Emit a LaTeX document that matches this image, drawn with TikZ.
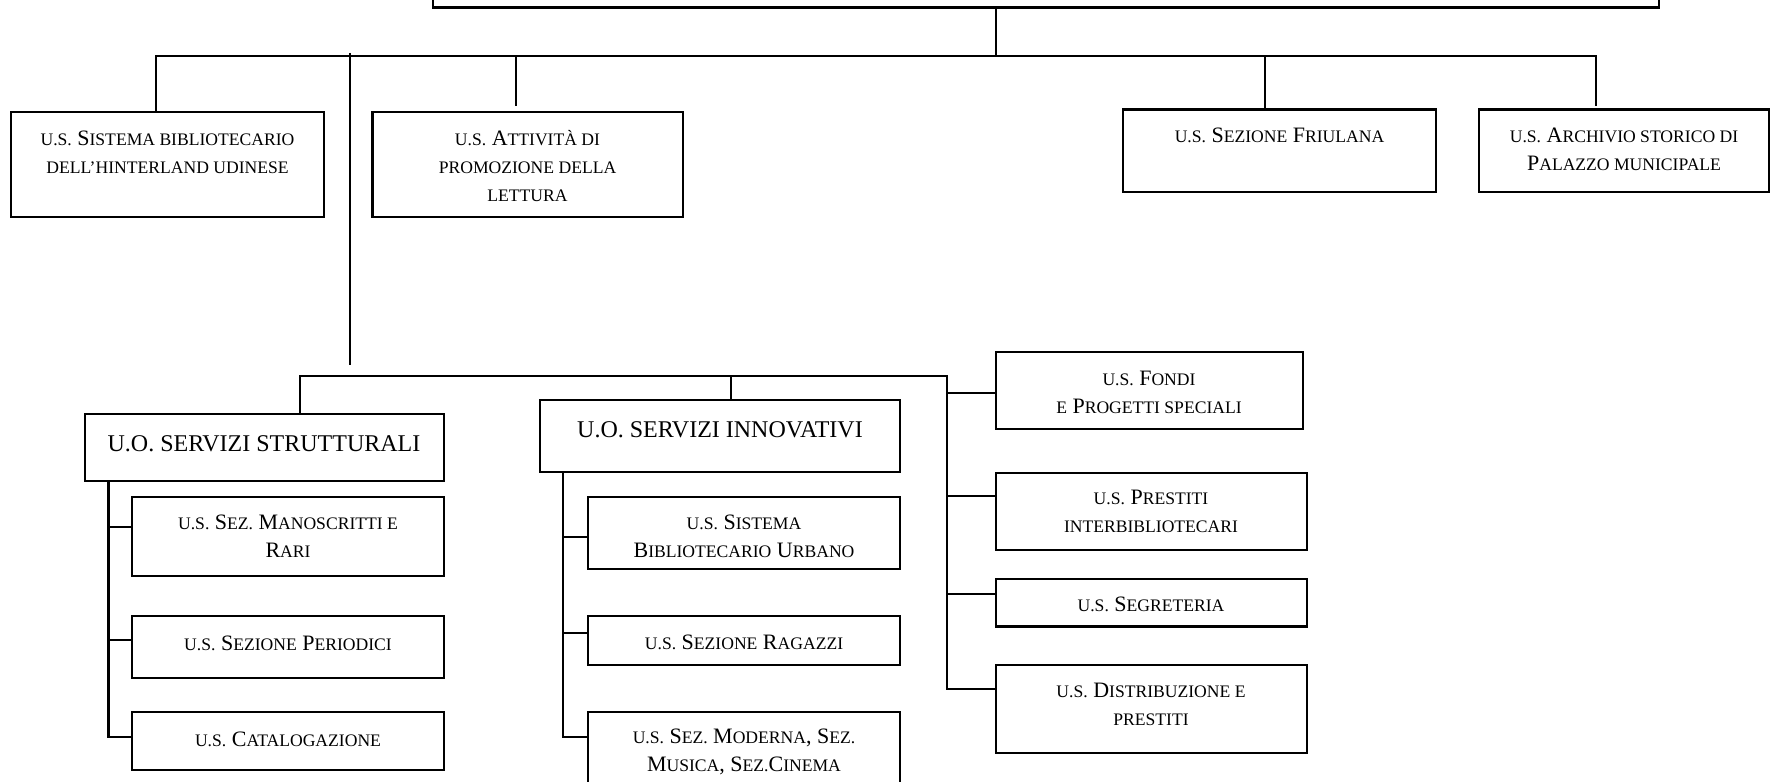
\documentclass[tikz,border=0pt]{standalone}
\usepackage{fontspec}
\setmainfont{Liberation Serif}
\usetikzlibrary{fit}
\newcommand{\sm}[1]{{\fontsize{8.8}{14}\selectfont #1}}
\tikzset{
  bx/.style={draw, line width=1.1pt, inner sep=0pt, outer sep=0pt, rectangle},
  lbl/.style={align=center, inner sep=0pt, font=\fontsize{11}{14}\selectfont},
  bigl/.style={align=center, inner sep=0pt, font=\fontsize{12}{14}\selectfont},
  conn/.style={line width=1.1pt},
  thinconn/.style={line width=0.75pt},
}
\newcommand{\ubox}[5]{\coordinate (#1-nw) at (#2,#3); \coordinate (#1-se) at (#4,#5); \node[bx, fit=(#1-nw)(#1-se)] (#1) {};}
\begin{document}
\begin{tikzpicture}[x=0.5pt,y=-0.5pt]
\useasboundingbox (0,0) rectangle (1770,781);
\fill[white] (0,0) rectangle (1770,781);
\clip (0,0) rectangle (1770,781);
% boxes
\ubox{top}{433}{-30}{1659}{7.5}
\ubox{b1}{11}{112}{324}{217}
\ubox{b2}{372.5}{112}{683}{217}
\ubox{b3}{1123}{109.5}{1436}{192}
\ubox{b4}{1479}{109.5}{1769}{192}
\ubox{b5}{84.7}{414}{443.6}{481}
\ubox{b6}{539.6}{400}{899.7}{472}
\ubox{b7}{132}{497}{443.6}{576}
\ubox{b8}{132}{616}{443.6}{678}
\ubox{b9}{132}{712}{443.6}{770}
\ubox{b10}{588}{497}{900}{569}
\ubox{b11}{588}{616}{900}{665}
\ubox{b12}{588}{712}{900}{800}
\ubox{b13}{995.6}{352}{1302.6}{429}
\ubox{b14}{995.6}{473}{1307}{550}
\ubox{b15}{995.6}{579}{1307}{626.5}
\ubox{b16}{995.6}{665}{1307}{753}
% texts
\node[lbl] (t1) at (167.5,152) {\sm{U.S.} S\sm{ISTEMA BIBLIOTECARIO}\\\sm{DELL’HINTERLAND UDINESE}};
\node[lbl] (t2) at (527.5,166) {\sm{U.S.} A\sm{TTIVITÀ DI}\\\sm{PROMOZIONE DELLA}\\\sm{LETTURA}};
\node[lbl] (t3) at (1279.5,135.5) {\sm{U.S.} S\sm{EZIONE} F\sm{RIULANA}};
\node[lbl] (t4) at (1624,149.6) {\sm{U.S.} A\sm{RCHIVIO STORICO DI}\\P\sm{ALAZZO MUNICIPALE}};
\node[bigl] (t5) at (264,443.6) {U.O. SERVIZI STRUTTURALI};
\node[bigl] (t6) at (720,430) {U.O. SERVIZI INNOVATIVI};
\node[lbl] (t7) at (288,536) {\sm{U.S.} S\sm{EZ.} M\sm{ANOSCRITTI E}\\R\sm{ARI}};
\node[lbl] (t8) at (288,643.4) {\sm{U.S.} S\sm{EZIONE} P\sm{ERIODICI}};
\node[lbl] (t9) at (288,739) {\sm{U.S.} C\sm{ATALOGAZIONE}};
\node[lbl] (t10) at (744,536) {\sm{U.S.} S\sm{ISTEMA}\\B\sm{IBLIOTECARIO} U\sm{RBANO}};
\node[lbl] (t11) at (744,642) {\sm{U.S.} S\sm{EZIONE} R\sm{AGAZZI}};
\node[lbl] (t12) at (744,752) {\sm{U.S.} S\sm{EZ.} M\sm{ODERNA}, S\sm{EZ.}\\M\sm{USICA}, S\sm{EZ.}C\sm{INEMA}};
\node[lbl] (t13) at (1149,392) {\sm{U.S.} F\sm{ONDI}\\\sm{E} P\sm{ROGETTI SPECIALI}};
\node[lbl] (t14) at (1151,511.5) {\sm{U.S.} P\sm{RESTITI}\\\sm{INTERBIBLIOTECARI}};
\node[lbl] (t15) at (1151,604) {\sm{U.S.} S\sm{EGRETERIA}};
\node[lbl] (t16) at (1151,704) {\sm{U.S.} D\sm{ISTRIBUZIONE E}\\\sm{PRESTITI}};
% connectors, level 1
\coordinate (j0) at (996,56);
\coordinate (l1L) at (156,56);
\coordinate (l1R) at (1596,56);
\coordinate (a4) at (1596,106);
\coordinate (j2) at (516,56);
\coordinate (a2) at (516,106);
\coordinate (j3) at (1265,56);
\coordinate (tr1) at (350,53);
\coordinate (tr2) at (350,365);
\draw[thinconn] (top.south -| j0) -- (j0);
\draw[conn] (b1.north -| l1L) -- (l1L) -- (l1R) -- (a4);
\draw[conn] (j2) -- (a2);
\draw[conn] (j3) -- (b3.north -| j3);
\draw[thinconn] (tr1) -- (tr2);
% level 2
\coordinate (l2L) at (300,376);
\coordinate (l2R) at (947,376);
\coordinate (j6) at (731,376);
\coordinate (r1) at (947,393);
\coordinate (r2) at (947,496);
\coordinate (r3) at (947,594);
\coordinate (r4) at (947,689);
\draw[conn] (b5.north -| l2L) -- (l2L) -- (l2R) -- (r4) -- (r4 -| b16.west);
\draw[thinconn] (j6) -- (b6.north -| j6);
\draw[conn] (r1) -- (r1 -| b13.west);
\draw[conn] (r2) -- (r2 -| b14.west);
\draw[conn] (r3) -- (r3 -| b15.west);
% strutturali
\coordinate (s1) at (108.4,527);
\coordinate (s2) at (108.4,640);
\coordinate (s3) at (108.4,737);
\draw[conn] (b5.south -| s3) -- (s3) -- (s3 -| b9.west);
\draw[conn] (s1) -- (s1 -| b7.west);
\draw[conn] (s2) -- (s2 -| b8.west);
% innovativi
\coordinate (i1) at (563.3,537);
\coordinate (i2) at (563.3,633);
\coordinate (i3) at (563.3,737);
\draw[conn] (b6.south -| i3) -- (i3) -- (i3 -| b12.west);
\draw[conn] (i1) -- (i1 -| b10.west);
\draw[conn] (i2) -- (i2 -| b11.west);
\end{tikzpicture}
\end{document}
